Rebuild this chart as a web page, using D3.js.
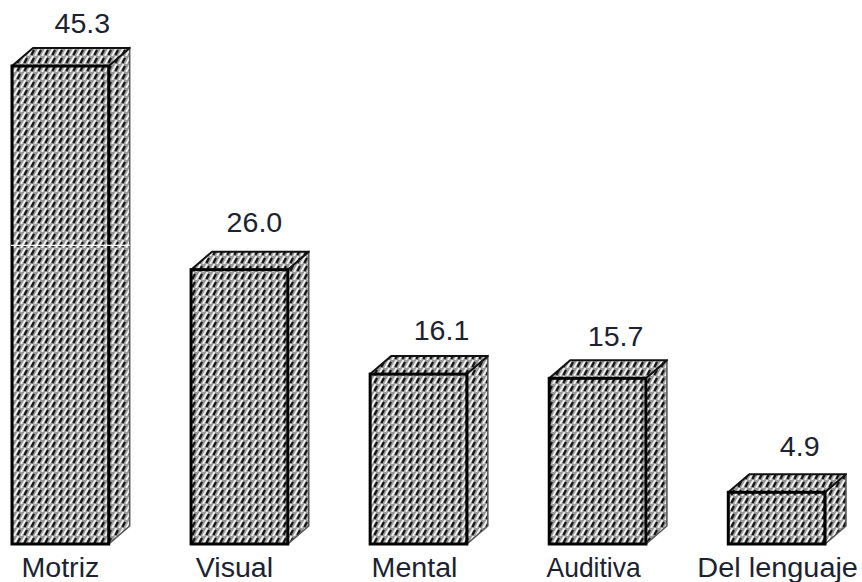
<!DOCTYPE html>
<html>
<head>
<meta charset="utf-8">
<style>
html, body { margin: 0; padding: 0; background: #fff; }
svg { display: block; }
text { font-family: "Liberation Sans", Arial, sans-serif; font-size: 27px; fill: #1c2230; }
</style>
<script src="https://cdn.jsdelivr.net/npm/d3@7/dist/d3.min.js"></script>
</head>
<body>
<svg id="chart" width="862" height="582"></svg>
<script>
const categories = ["Motriz", "Visual", "Mental", "Auditiva", "Del lenguaje"];
const values = [45.3, 26.0, 16.1, 15.7, 4.9];
const valueLabels = ["45.3", "26.0", "16.1", "15.7", "4.9"];

const svg = d3.select("#chart");
const baseline = 544;
const y = d3.scaleLinear().domain([0, 45.3]).range([baseline, 66]);
const x = d3.scaleBand().domain(categories).range([12, 825]).paddingInner(0.46).paddingOuter(0);
const depthX = 21, depthY = 18;

// Diagonal woven hatch shared by every face of the boxes
const pat = svg.append("defs").append("pattern")
  .attr("id", "hatch").attr("patternUnits", "userSpaceOnUse")
  .attr("width", 7).attr("height", 8);
pat.append("rect").attr("width", 7).attr("height", 8).attr("fill", "#989898");
pat.append("path").attr("d", "M0 8 L4.5 0 M7 8 L11.5 0 M-7 8 L-2.5 0")
  .attr("stroke", "#f0f0f0").attr("stroke-width", 2);
pat.append("path").attr("d", "M3.4 7 L6 2").attr("stroke", "#141414").attr("stroke-width", 2.2);

const bars = svg.selectAll("g.bar").data(categories).join("g").attr("class", "bar");

// Side face, top face, then the heavier front face
bars.append("path")
  .attr("fill", "url(#hatch)").attr("stroke", "#555").attr("stroke-width", 1.5)
  .attr("d", (d, i) => {
    const r = x(d) + x.bandwidth(), t = y(values[i]);
    return `M${r} ${t}l${depthX} ${-depthY}V${baseline - depthY}L${r} ${baseline}Z`;
  });
bars.append("path")
  .attr("fill", "url(#hatch)").attr("stroke", "#111").attr("stroke-width", 2)
  .attr("stroke-linejoin", "round")
  .attr("d", (d, i) => {
    const l = x(d), r = l + x.bandwidth(), t = y(values[i]);
    return `M${l} ${t}l${depthX} ${-depthY}H${r + depthX}L${r} ${t}Z`;
  });
bars.append("rect")
  .attr("x", d => x(d)).attr("width", x.bandwidth())
  .attr("y", (d, i) => y(values[i]))
  .attr("height", (d, i) => baseline - y(values[i]))
  .attr("fill", "url(#hatch)").attr("stroke", "#000").attr("stroke-width", 3);

// Thin light seam across the tallest box
const seamY = y(28.3);
svg.append("line")
  .attr("x1", x(categories[0]) - 1).attr("x2", x(categories[0]) + x.bandwidth() + depthX)
  .attr("y1", seamY).attr("y2", seamY)
  .attr("stroke", "#fff").attr("stroke-width", 1.2);

const centre = (d) => x(d) + x.bandwidth() / 2;

// Value labels sit at hand-tuned offsets from each box
const valueDx = [22, 15, 23, 18, 23];
const valueGap = [33, 38, 34, 32, 36];
svg.selectAll("text.value").data(valueLabels).join("text")
  .attr("class", "value").attr("text-anchor", "middle")
  .attr("transform", (d, i) => `translate(${centre(categories[i]) + valueDx[i]},${y(values[i]) - valueGap[i]}) scale(1.06,1)`)
  .text(d => d);

const labelDx = [0, -5, -4, -4, 1];
const labelStretch = [1.06, 1.06, 1.06, 0.98, 1.07];
svg.selectAll("text.cat").data(categories).join("text")
  .attr("class", "cat").attr("text-anchor", "middle")
  .attr("transform", (d, i) => `translate(${centre(d) + labelDx[i]},577) scale(${labelStretch[i]},1)`)
  .text(d => d);
</script>
</body>
</html>
